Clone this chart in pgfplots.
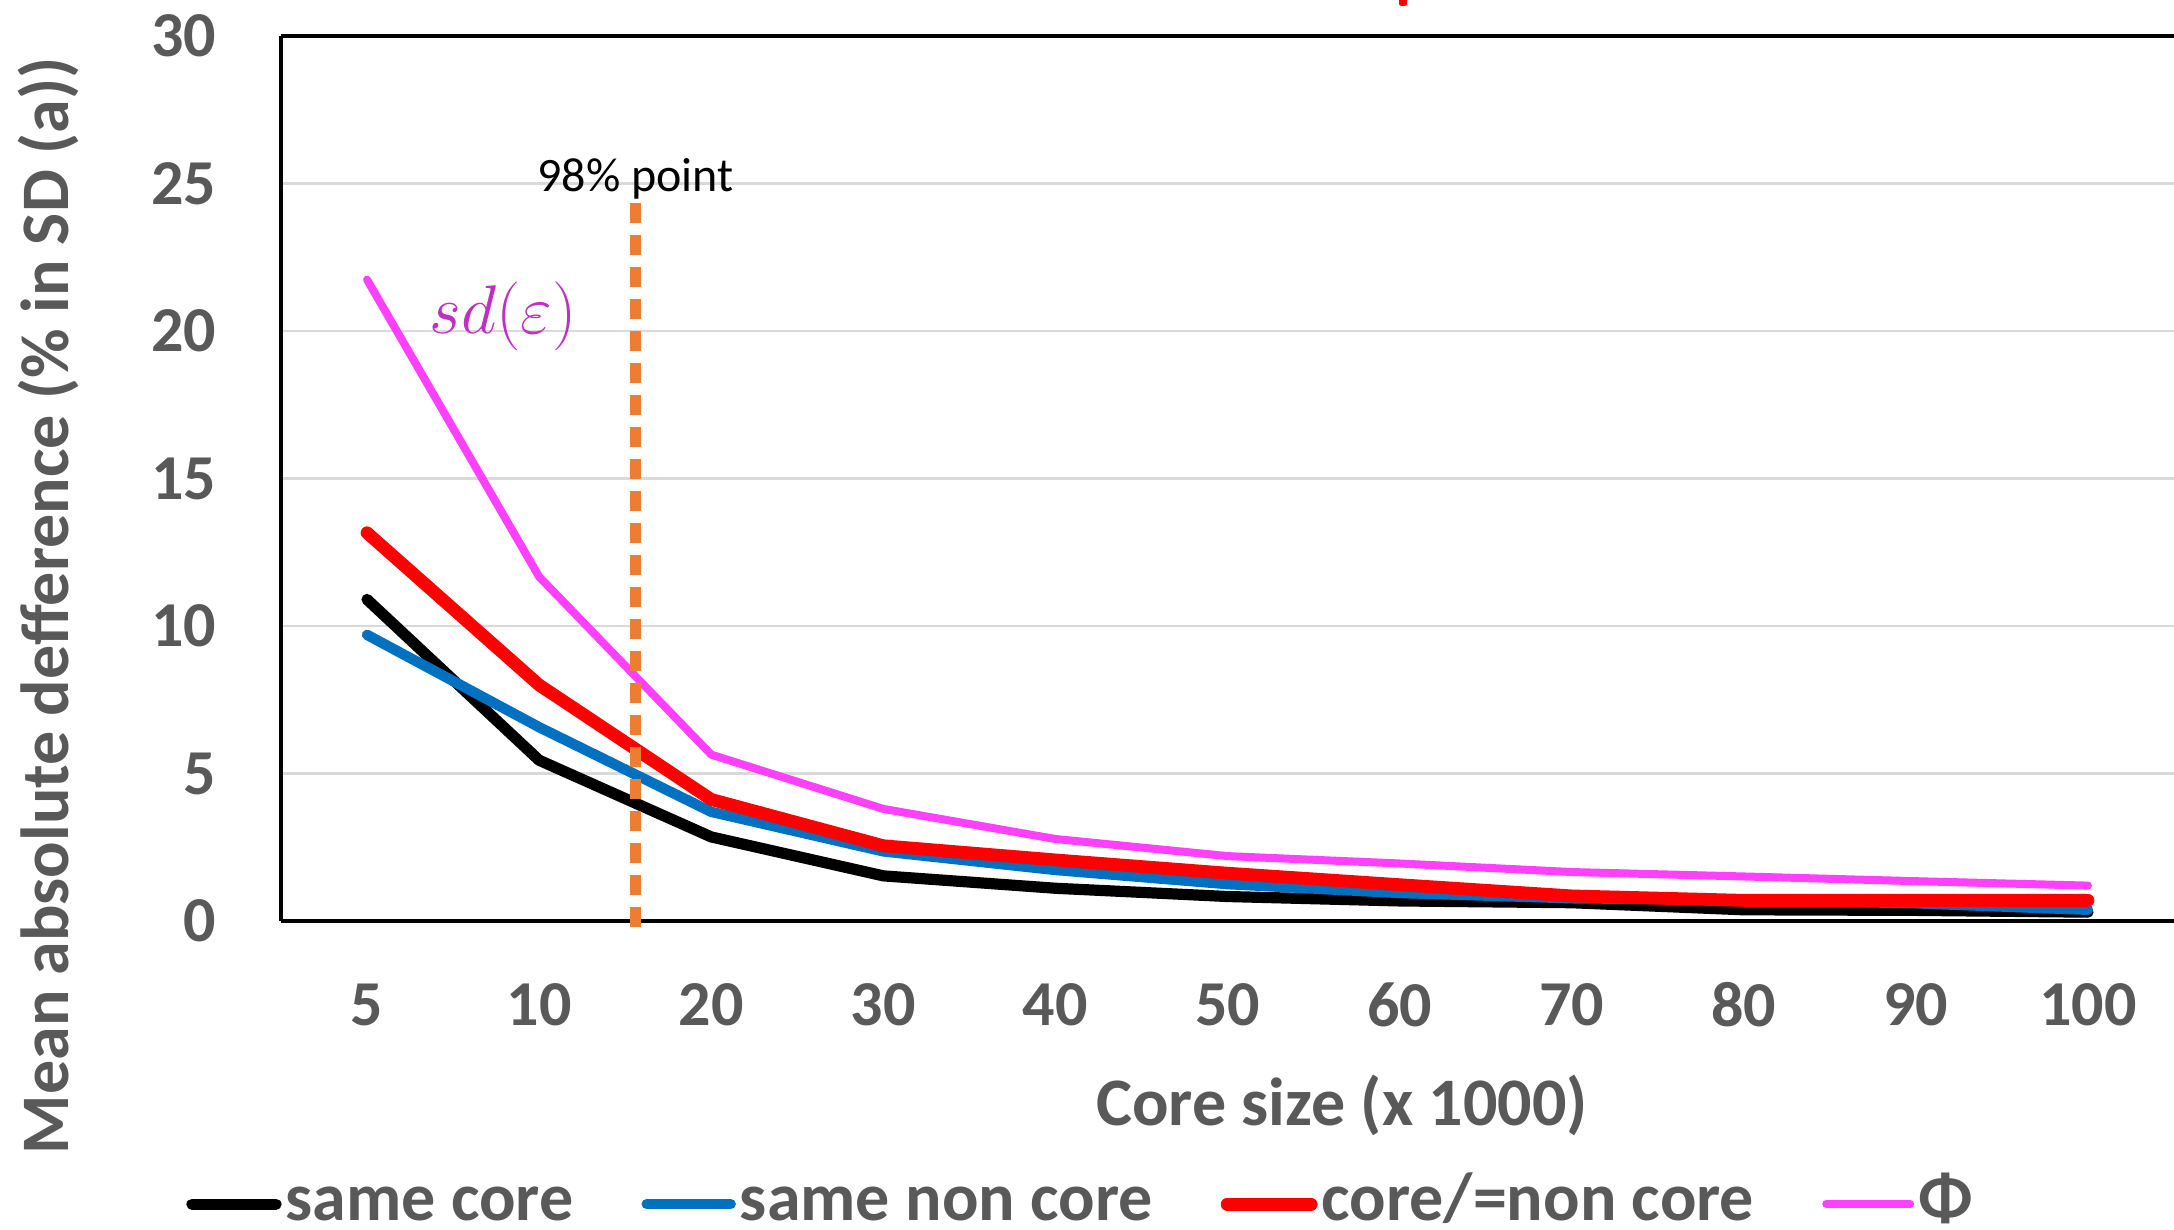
\documentclass[border=0pt]{standalone}
\usepackage{fontspec}
\setmainfont{Carlito}
\usepackage{pgfplots}
\pgfplotsset{compat=1.18}
\definecolor{txtgray}{HTML}{595959}
\definecolor{gridgray}{HTML}{D9D9D9}
\definecolor{cblue}{HTML}{0070C0}
\definecolor{cred}{HTML}{FF0000}
\definecolor{cmag}{HTML}{FF40FF}
\definecolor{corange}{HTML}{ED7D31}
\definecolor{sdcol}{HTML}{BF30C0}
\begin{document}
\begin{tikzpicture}
\begin{axis}[
  at={(0,0)}, anchor=south west,
  scale only axis, width=473.25bp, height=221.25bp,
  xmin=-0.5, xmax=10.5, ymin=0, ymax=30,
  axis x line*=box, axis y line*=left,
  axis line style={black, line width=1bp, -},
  xtick={0,...,10},
  xticklabels={5,10,20,30,40,50,60,70,80,90,100},
  minor xtick={0.5,1.5,...,9.5},
  xtick pos=left,
  xtick style={draw=none},
  minor x tick style={black, line width=0.9bp},
  minor tick length=4.5bp,
  tick align=inside,
  ytick={0,5,...,30},
  ytick style={draw=none},
  ymajorgrids, grid style={gridgray, line width=0.7bp},
  /pgf/number format/assume math mode=true,
  ticklabel style={font=\fontsize{16bp}{19bp}\selectfont\bfseries, text=txtgray},
  xticklabel style={anchor=center, inner sep=0pt, yshift=-21bp},
  yticklabel style={anchor=east, inner sep=0pt, xshift=-16bp},
  xlabel={Core size (x 1000)},
  xlabel style={at={(rel axis cs:0.5605,-0.208)}, anchor=center, font=\fontsize{17bp}{20bp}\selectfont\bfseries, text=txtgray, inner sep=0pt},
  ylabel={Mean absolute defference (\% in SD (a))},
  ylabel style={at={(rel axis cs:-0.123,0.356)}, anchor=center, rotate=0, font=\fontsize{17bp}{20bp}\selectfont\bfseries, text=txtgray, inner sep=0pt},
  clip=false,
  legend columns=-1,
  legend style={at={(0.4229,-0.3197)}, anchor=center, draw=none, fill=none,
    font=\fontsize{17bp}{20bp}\selectfont\bfseries, text=txtgray,
    inner sep=0pt, nodes={inner sep=1bp, text height=8.5bp, text depth=0bp, anchor=base west},
    /tikz/every even column/.append style={column sep=16bp}},
  legend image code/.code={\draw[#1, line cap=round] (0bp,4.2bp) -- (21bp,4.2bp);},
]
\addplot[black, line width=2.8bp, line join=round, line cap=round] coordinates {
 (0,10.9) (1,5.45) (2,2.85) (3,1.53) (4,1.11) (5,0.83) (6,0.68) (7,0.62) (8,0.38) (9,0.36) (10,0.3)};
\addlegendentry{same core}
\addplot[cblue, line width=2.6bp, line join=round, line cap=round] coordinates {
 (0,9.7) (1,6.57) (2,3.7) (3,2.36) (4,1.73) (5,1.25) (6,0.95) (7,0.77) (8,0.72) (9,0.6) (10,0.38)};
\addlegendentry{same non core}
\addplot[cred, line width=3.2bp, line join=round, line cap=round] coordinates {
 (0,13.16) (1,8.0) (2,4.12) (3,2.55) (4,2.07) (5,1.62) (6,1.23) (7,0.85) (8,0.7) (9,0.7) (10,0.7)};
\addlegendentry{core/=non core}
\addplot[cmag, line width=2bp, line join=round, line cap=round] coordinates {
 (0,21.74) (1,11.67) (2,5.64) (3,3.8) (4,2.78) (5,2.2) (6,1.95) (7,1.66) (8,1.51) (9,1.35) (10,1.2)};
\addlegendentry{Φ}
\addplot[corange, line width=2.7bp, dash pattern=on 5bp off 3bp, forget plot] coordinates {(1.56,-0.2) (1.56,24.4)};
\node[font=\fontsize{12bp}{14bp}\selectfont, text=black, inner sep=0pt] at (axis cs:1.56,25.15) {98\% point};
\node[text=sdcol, inner sep=0pt, font=\fontsize{17.5bp}{20bp}\selectfont] at (axis cs:0.79,20.5) {$sd(\varepsilon)$};
\end{axis}
\fill[cred, rounded corners=0.5bp] (279.5bp,228.8bp) rectangle (281.5bp,231bp);
\pgfresetboundingbox
\path[use as bounding box] (-70.25bp,-77.25bp) rectangle (473.25bp,230.25bp);
\end{tikzpicture}
\end{document}
